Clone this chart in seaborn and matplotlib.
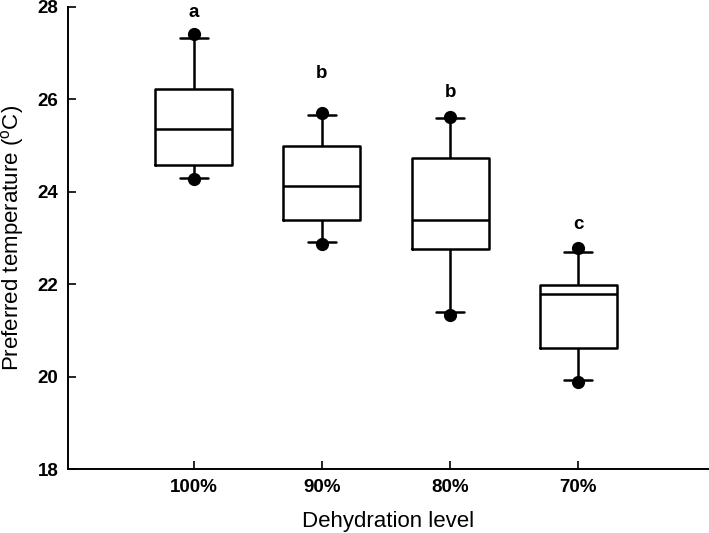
import matplotlib
matplotlib.use("Agg")
import matplotlib.pyplot as plt
import seaborn as sns
import pandas as pd
import numpy as np

# ---- data ----
categories = ["100%", "90%", "80%", "70%"]
whisker_low = [24.30, 22.92, 21.39, 19.93]
q1          = [24.59, 23.39, 22.76, 20.63]
median      = [25.35, 24.13, 23.39, 21.78]
q3          = [26.22, 24.98, 24.74, 21.98]
whisker_high= [27.33, 25.66, 25.59, 22.70]
dot_low     = [24.28, 22.88, 21.34, 19.88]
dot_high    = [27.41, 25.71, 25.62, 22.78]
letters     = ["a", "b", "b", "c"]
letter_y    = [27.87, 26.56, 26.15, 23.30]

sns.set_theme(style="ticks")
plt.rcParams["font.family"] = ["Liberation Sans", "DejaVu Sans"]
plt.rcParams["text.color"] = "black"
plt.rcParams["axes.labelcolor"] = "black"

# five-number summaries per group -> boxplot with whiskers to min/max
rows = []
for c, a, b, m, d, e in zip(categories, whisker_low, q1, median, q3, whisker_high):
    for v in (a, b, m, d, e):
        rows.append({"level": c, "temp": v})
box_df = pd.DataFrame(rows)

dot_df = pd.DataFrame({
    "level": categories * 2,
    "temp": dot_low + dot_high,
})

fig = plt.figure(figsize=(7.09, 5.33), dpi=100)
ax = fig.add_axes([0.096, 0.120, 0.904, 0.867])

lw = 1.8
sns.boxplot(data=box_df, x="level", y="temp", order=categories,
            whis=(0, 100), width=0.6, fill=False, color="black",
            linecolor="black", linewidth=lw, showfliers=False, ax=ax)

# narrower caps
for ln in ax.lines:
    xd = np.asarray(ln.get_xdata(), dtype=float)
    yd = np.asarray(ln.get_ydata(), dtype=float)
    if len(xd) == 2 and yd[0] == yd[1] and (xd[1] - xd[0]) < 0.5:
        cx = xd.mean()
        ln.set_xdata([cx - 0.11, cx + 0.11])

sns.stripplot(data=dot_df, x="level", y="temp", order=categories,
              jitter=False, color="black", size=9.5, linewidth=0, ax=ax, zorder=5)

for i, (t, y) in enumerate(zip(letters, letter_y)):
    ax.text(i, y, t, ha="center", va="center", fontsize=13.5, fontweight="bold",
            color="black")

ax.set_xlim(-0.98, 4.02)
ax.set_ylim(18, 28)
ax.set_yticks([18, 20, 22, 24, 26, 28])
ax.set_xlabel("Dehydration level", fontsize=16, labelpad=11, color="black")
ax.set_ylabel("Preferred temperature ($^{\\mathregular{o}}$C)", fontsize=16,
              labelpad=8, color="black")

for lab in ax.get_xticklabels() + ax.get_yticklabels():
    lab.set_fontweight("bold")
ax.tick_params(axis="both", direction="in", length=6, width=1.2, labelsize=13.5,
               color="black", labelcolor="black", pad=7)
for side in ("top", "right"):
    ax.spines[side].set_visible(False)
for side in ("left", "bottom"):
    ax.spines[side].set_linewidth(1.4)
    ax.spines[side].set_color("black")
ax.patch.set_alpha(0)

fig.savefig("out.png", dpi=100, facecolor="white")
